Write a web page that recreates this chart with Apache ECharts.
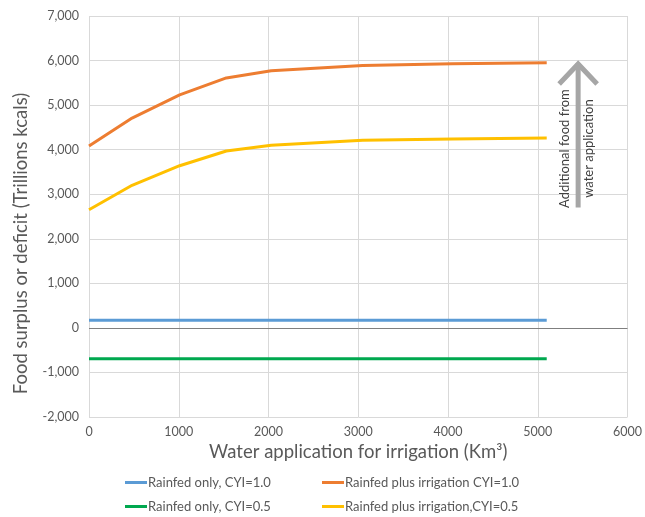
<!DOCTYPE html>
<html>
<head>
<meta charset="utf-8">
<script src="https://cdn.jsdelivr.net/npm/echarts@6/dist/echarts.min.js"></script>
<style>
  html, body { margin: 0; padding: 0; background: #fff; }
  #chart { width: 645px; height: 517px; }
</style>
</head>
<body>
<div id="chart"></div>
<script>
// 数据
const waterX = [0, 480, 1010, 1530, 2030, 3050, 4050, 5100]
const irrigCYI10 = [4080, 4710, 5230, 5610, 5770, 5890, 5930, 5950]
const irrigCYI05 = [2650, 3200, 3640, 3970, 4100, 4210, 4240, 4260]
const rainfedX = [0, 5100]
const rainfedCYI10 = [170, 170]
const rainfedCYI05 = [-690, -690]
const seriesNames = [
  'Rainfed only, CYI=1.0',
  'Rainfed only, CYI=0.5',
  'Rainfed plus irrigation CYI=1.0',
  'Rainfed plus irrigation,CYI=0.5'
]
const arrowX = 5450
const arrowY = [2700, 5990]

const font = 'Lato'
const grey = '#595959'

const pairs = (xs, ys) => xs.map((x, i) => [x, ys[i]])

const chart = echarts.init(document.getElementById('chart'))

const lineStyle = (color) => ({ width: 3, color: color })

// 图例：每项一个，两行两列
const legendPos = [[125, 476], [125, 500], [322, 476], [322, 500]]
const legends = seriesNames.map((name, i) => ({
  left: legendPos[i][0], top: legendPos[i][1], padding: 0,
  icon: 'rect', itemWidth: 22, itemHeight: 3,
  textStyle: { color: grey, fontSize: 13, padding: [0, 0, 0, -4] },
  data: [name]
}))

const option = {
  animation: false,
  textStyle: { fontFamily: font },
  grid: { left: 89, right: 14, top: 16, bottom: 100 },
  xAxis: {
    type: 'value',
    min: 0, max: 6000, interval: 1000,
    name: 'Water application for irrigation (Km³)',
    nameLocation: 'middle',
    nameGap: 24,
    nameTextStyle: { fontSize: 18.5, color: grey, fontFamily: font },
    axisLine: { show: false },
    axisTick: { show: false },
    axisLabel: { color: grey, fontSize: 12.5, margin: 8, formatter: (v) => String(v) },
    splitLine: { lineStyle: { color: '#d9d9d9' } }
  },
  yAxis: {
    type: 'value',
    min: -2000, max: 7000, interval: 1000,
    name: 'Food surplus or deficit (Trillions kcals)',
    nameLocation: 'middle',
    nameGap: 58,
    nameTextStyle: { fontSize: 18.5, color: grey, fontFamily: font, padding: [0, 54, 0, 0] },
    axisLine: { show: false },
    axisTick: { show: false },
    axisLabel: {
      color: grey, fontSize: 12.5, margin: 10,
      formatter: (v) => v.toLocaleString('en-US')
    },
    splitLine: { lineStyle: { color: '#d9d9d9' } }
  },
  legend: legends,
  series: [
    {
      name: seriesNames[0], type: 'line', showSymbol: false,
      color: '#5B9BD5', lineStyle: lineStyle('#5B9BD5'),
      data: pairs(rainfedX, rainfedCYI10),
      markLine: {
        silent: true, symbol: 'none', label: { show: false },
        lineStyle: { color: '#7f7f7f', width: 1, type: 'solid' },
        data: [{ yAxis: 0 }]
      }
    },
    {
      name: seriesNames[1], type: 'line', showSymbol: false,
      color: '#00A84F', lineStyle: lineStyle('#00A84F'),
      data: pairs(rainfedX, rainfedCYI05)
    },
    {
      name: seriesNames[2], type: 'line', showSymbol: false,
      color: '#ED7D31', lineStyle: lineStyle('#ED7D31'),
      data: pairs(waterX, irrigCYI10)
    },
    {
      name: seriesNames[3], type: 'line', showSymbol: false,
      color: '#FFC000', lineStyle: lineStyle('#FFC000'),
      data: pairs(waterX, irrigCYI05)
    }
  ]
}
chart.setOption(option)

// 箭头和注释
const pBottom = chart.convertToPixel('grid', [arrowX, arrowY[0]])
const pTop = chart.convertToPixel('grid', [arrowX, arrowY[1]])
const midY = pBottom[1] - 59
chart.setOption({
  graphic: [
    {
      type: 'line', silent: true,
      shape: { x1: pBottom[0], y1: pBottom[1], x2: pTop[0], y2: pTop[1] + 2 },
      style: { stroke: '#a6a6a6', lineWidth: 5 }
    },
    {
      type: 'polyline', silent: true,
      shape: { points: [[pTop[0] - 19, pTop[1] + 23], [pTop[0], pTop[1] + 3], [pTop[0] + 19, pTop[1] + 23]] },
      style: { stroke: '#a6a6a6', lineWidth: 5, fill: null }
    },
    {
      type: 'text', silent: true, x: pTop[0] - 13, y: midY, rotation: Math.PI / 2,
      style: { text: 'Additional food from', fill: '#404040', font: '13px ' + font, align: 'center', verticalAlign: 'middle' }
    },
    {
      type: 'text', silent: true, x: pTop[0] + 11, y: midY, rotation: Math.PI / 2,
      style: { text: 'water application', fill: '#404040', font: '13px ' + font, align: 'center', verticalAlign: 'middle' }
    }
  ]
})
</script>
</body>
</html>
